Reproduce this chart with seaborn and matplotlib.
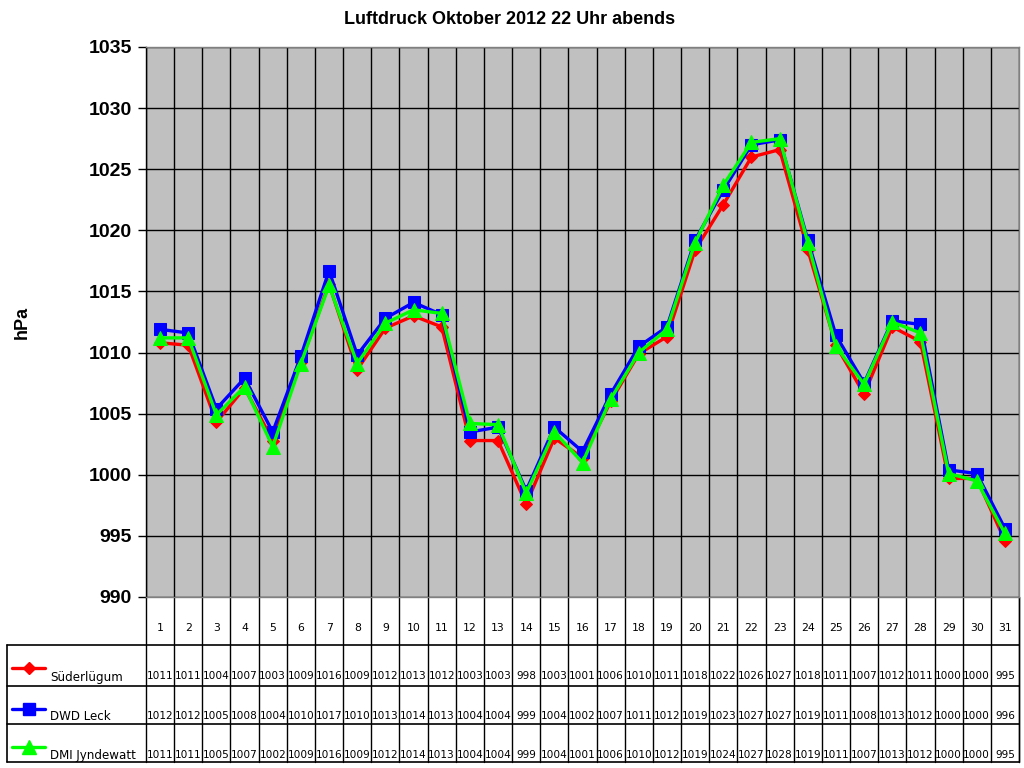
import numpy as np
import pandas as pd
import matplotlib
matplotlib.use("Agg")
import matplotlib.pyplot as plt
import seaborn as sns
from matplotlib.transforms import blended_transform_factory
from matplotlib.lines import Line2D

days = list(range(1, 32))
series_names = ["Süderlügum", "DWD Leck", "DMI Jyndewatt"]
suederluegum = [1010.8, 1010.6, 1004.3, 1007.1, 1002.8, 1009.2, 1015.6, 1008.6, 1012.0, 1013.0,
                1012.1, 1002.8, 1002.8, 997.6, 1003.0, 1001.4, 1006.0, 1009.9, 1011.3, 1018.4,
                1022.1, 1026.0, 1026.6, 1018.4, 1010.6, 1006.6, 1012.1, 1010.9, 999.7, 999.7, 994.6]
dwd_leck = [1011.9, 1011.6, 1005.4, 1007.9, 1003.5, 1009.7, 1016.7, 1009.8, 1012.8, 1014.1,
            1013.1, 1003.5, 1003.9, 998.7, 1003.9, 1001.9, 1006.6, 1010.5, 1012.1, 1019.2,
            1023.3, 1027.0, 1027.4, 1019.2, 1011.4, 1007.5, 1012.6, 1012.3, 1000.4, 1000.1, 995.6]
dmi_jyndewatt = [1011.2, 1011.2, 1004.9, 1007.2, 1002.3, 1009.1, 1015.5, 1009.1, 1012.4, 1013.5,
                 1013.2, 1004.2, 1004.1, 998.5, 1003.5, 1001.0, 1006.2, 1010.0, 1011.9, 1019.0,
                 1023.7, 1027.2, 1027.5, 1019.0, 1010.5, 1007.4, 1012.5, 1011.6, 1000.1, 999.5, 995.2]
title = "Luftdruck Oktober 2012 22 Uhr abends"
y_label = "hPa"
y_ticks = [990, 995, 1000, 1005, 1010, 1015, 1020, 1025, 1030, 1035]

colors = {"Süderlügum": "#FF0000", "DWD Leck": "#0000FF", "DMI Jyndewatt": "#00FF00"}
markers = {"Süderlügum": "D", "DWD Leck": "s", "DMI Jyndewatt": "^"}
msizes = {"Süderlügum": 6.5, "DWD Leck": 8.5, "DMI Jyndewatt": 9.5}

values = {"Süderlügum": suederluegum, "DWD Leck": dwd_leck, "DMI Jyndewatt": dmi_jyndewatt}
df = pd.concat([pd.DataFrame({"Tag": days, "hPa": values[n], "Station": n}) for n in series_names],
               ignore_index=True)

sns.set_theme(style="white")
plt.rcParams["font.family"] = ["Liberation Sans", "DejaVu Sans"]
plt.rcParams["text.color"] = "black"
plt.rcParams["xtick.color"] = "black"
plt.rcParams["ytick.color"] = "black"
plt.rcParams["axes.labelcolor"] = "black"

W, H = 1024, 768
fig = plt.figure(figsize=(W / 100, H / 100), dpi=100)
fig.patch.set_facecolor("white")

fax = fig.add_axes([0, 0, 1, 1], zorder=0)
fax.set_xlim(0, W)
fax.set_ylim(H, 0)
fax.axis("off")

L, R, T, B = 146, 1019, 47, 597
ax = fig.add_axes([L / W, 1 - B / H, (R - L) / W, (B - T) / H], zorder=1)
ax.set_facecolor("#C0C0C0")

for name in series_names:
    sub = df[df["Station"] == name]
    sns.lineplot(data=sub, x="Tag", y="hPa", ax=ax, color=colors[name], marker=markers[name],
                 markersize=msizes[name], markeredgecolor=colors[name], linewidth=2.4,
                 legend=False, zorder=3)

ax.set_xlim(0.5, 31.5)
ax.set_ylim(990, 1035)
ax.set_yticks(y_ticks)
ax.set_yticklabels([str(t) for t in y_ticks], fontsize=14, fontweight="bold", color="black")
ax.set_xticks(days)
ax.set_xticks([d + 0.5 for d in range(0, 32)], minor=True)
ax.tick_params(axis="x", which="both", length=0, labelbottom=False)
ax.tick_params(axis="y", which="major", length=6, width=1, color="black", left=True, pad=4)
ax.grid(False)
ax.xaxis.grid(True, which="minor", color="black", linewidth=1)
ax.yaxis.grid(True, which="major", color="black", linewidth=1)
ax.set_axisbelow(True)
for s in ax.spines.values():
    s.set_color("#808080")
    s.set_linewidth(1)
ax.spines["left"].set_color("black")
ax.set_xlabel("")
ax.set_ylabel("")

fig.text(510 / W, 1 - 20 / H, title, ha="center", va="center", fontsize=13, fontweight="bold",
         color="black")
fig.text(22 / W, 1 - 322 / H, y_label, ha="center", va="center", rotation=90,
         fontsize=13, fontweight="bold", color="black")

tr = blended_transform_factory(ax.transData, fax.transData)
row_top = [645, 686, 724]
row_bot = 762
for k in range(0, 32):
    fax.plot([k + 0.5, k + 0.5], [B, row_bot], color="black", lw=1, transform=tr, clip_on=False)
for y in row_top + [row_bot]:
    fax.plot([7, R], [y, y], color="black", lw=1.2, clip_on=False)
fax.plot([7, 7], [row_top[0], row_bot], color="black", lw=1.2, clip_on=False)
fax.plot([R, R], [B, row_bot], color="black", lw=1, clip_on=False)

table_font = ["DejaVu Sans"]
for d in days:
    fax.text(d, 628, str(d), transform=tr, ha="center", va="center", fontsize=7.8,
             family=table_font, color="black")

text_y = [676, 716, 755]
sample_y = [668, 709, 747]
for i, name in enumerate(series_names):
    for d, v in zip(days, values[name]):
        fax.text(d, text_y[i], str(int(np.floor(v + 0.5))), transform=tr, ha="center",
                 va="center", fontsize=7.6, family=table_font, color="black")
    fax.add_line(Line2D([12, 45], [sample_y[i], sample_y[i]], color=colors[name], lw=2.4))
    fax.add_line(Line2D([28.5], [sample_y[i]], color=colors[name], marker=markers[name],
                        markersize=msizes[name], markeredgecolor=colors[name], lw=0))
    fax.text(50, text_y[i] + 1, name, ha="left", va="center", fontsize=8.6, family=table_font,
             color="black")

fig.savefig("out.png", dpi=100)
